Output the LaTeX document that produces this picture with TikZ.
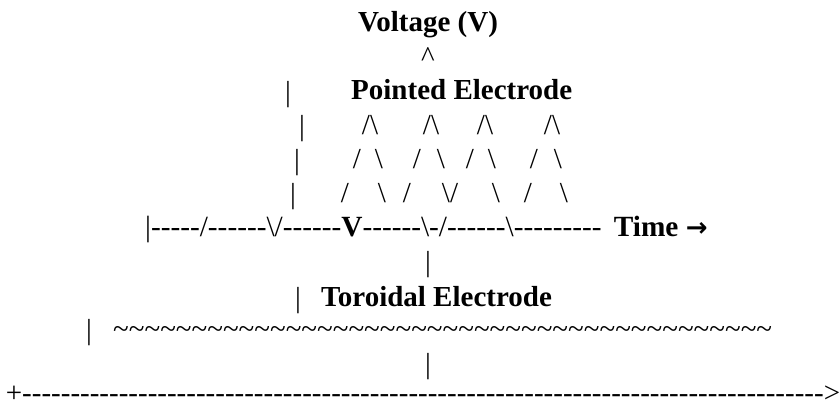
\documentclass[tikz,border=0pt]{standalone}
\usepackage{fontspec}
\newfontfamily\rf{Liberation Serif}
\newfontfamily\dv{DejaVu Sans}
\ExplSyntaxOn
\cs_new:Npn \myrep #1#2 { \prg_replicate:nn {#1} {#2} }
\ExplSyntaxOff
\def\bs{\textbackslash}
\tikzset{
  txt/.style={inner sep=0pt, anchor=base, font=\rf\fontsize{29}{29}\selectfont},
  btxt/.style={txt, font=\rf\bfseries\fontsize{29}{29}\selectfont},
  axtxt/.style={txt, font=\rf\fontsize{29.3}{29.3}\selectfont},
}
\begin{document}
\begin{tikzpicture}[x=1pt,y=-1pt]
\useasboundingbox[fill=white] (0,0) rectangle (840,405);
% title and caret
\node[btxt] (volt) at (428,31) {Voltage (V)};
\node[txt] (caret) at (428,66) {\textasciicircum};
% pointed electrode row
\node[txt] (b1) at (288,101) {\textbar};
\node[btxt,anchor=base west] (pointed) at (351,99) {Pointed Electrode};
% row 4
\node[txt] (b2) at (302,135) {\textbar};
\node[txt] (p1) at (370,134) {/\bs};
\node[txt] (p2) at (431,134) {/\bs};
\node[txt] (p3) at (485,134) {/\bs};
\node[txt] (p4) at (552,134) {/\bs};
% row 5
\node[txt] (b3) at (297,169) {\textbar};
\node[txt] (s1) at (357,168) {/};
\node[txt] (s2) at (379,168) {\bs};
\node[txt] (s3) at (417,168) {/};
\node[txt] (s4) at (441,168) {\bs};
\node[txt] (s5) at (470,168) {/};
\node[txt] (s6) at (492,168) {\bs};
\node[txt] (s7) at (534,168) {/};
\node[txt] (s8) at (558,168) {\bs};
% row 6
\node[txt] (b4) at (293,203) {\textbar};
\node[txt] (t1) at (345,202) {/};
\node[txt] (t2) at (382,202) {\bs};
\node[txt] (t3) at (407,202) {/};
\node[txt] (t4) at (450,202) {\bs/};
\node[txt] (t5) at (496,202) {\bs};
\node[txt] (t6) at (528,202) {/};
\node[txt] (t7) at (564,202) {\bs};
% axis row
\node[axtxt,anchor=base west] (axis) at (145,236)
  {\textbar\myrep{5}{-}/\myrep{6}{-}\bs/\myrep{6}{-}\textbf{V}\myrep{6}{-}\bs-/\myrep{6}{-}\bs\myrep{9}{-}\hspace{5pt} \textbf{Time} {\dv\bfseries\fontsize{26}{26}\selectfont →}};
% below axis
\node[txt] (b5) at (428,271) {\textbar};
\node[txt] (b6) at (298,307) {\textbar};
\node[btxt,anchor=base west] (toroidal) at (321,306) {Toroidal Electrode};
\node[txt] (b7) at (89,339) {\textbar};
\node[txt,anchor=base west] (wave) at (113,338) {\myrep{42}{\textasciitilde}};
\node[txt] (b8) at (428,373) {\textbar};
\node[txt] (base) at (423,402) {+\myrep{83}{-}>};
\end{tikzpicture}
\end{document}
